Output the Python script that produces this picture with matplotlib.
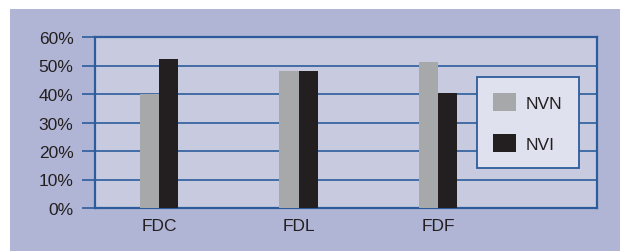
import matplotlib
matplotlib.use("Agg")
import matplotlib.pyplot as plt
from matplotlib.patches import Rectangle
import numpy as np

categories = ["FDC", "FDL", "FDF"]
nvn = [40, 48, 51.3]
nvi = [52.3, 48, 40.4]
series_names = ["NVN", "NVI"]
yticks = [0, 10, 20, 30, 40, 50, 60]
ytick_labels = [f"{v}%" for v in yticks]

plt.rcParams['font.family'] = ['Liberation Sans', 'DejaVu Sans']

W, H = 620, 253
fig = plt.figure(figsize=(W / 100, H / 100), dpi=100)
fig.patch.set_facecolor("white")
fig.patches.append(Rectangle((10 / W, 1 - 252 / H), 610 / W, 242 / H,
                             transform=fig.transFigure, facecolor="#b0b5d5",
                             edgecolor="none", zorder=-10))

ax = fig.add_axes([95 / W, 1 - 209 / H, 502 / W, 171 / H])
ax.set_zorder(1)
ax.set_facecolor("#c8cbe0")

blue = "#2c5c9c"
text_c = "#231f20"
fs = 12.5
x = np.arange(len(categories))
bw = 0.137
b1 = ax.bar(x - bw / 2, nvn, bw, color="#a7a8aa", label=series_names[0], zorder=3)
b2 = ax.bar(x + bw / 2, nvi, bw, color="#231f20", label=series_names[1], zorder=3)

ax.set_xlim(-0.46, 3.14)
ax.set_ylim(0, 60)
ax.set_yticks(yticks)
ax.set_yticklabels(ytick_labels)
ax.set_xticks(x)
ax.set_xticklabels(categories)
ax.yaxis.grid(True, color=blue, linewidth=1.2, zorder=1)
ax.set_axisbelow(True)
for s in ax.spines.values():
    s.set_color(blue)
    s.set_linewidth(1.6)
ax.tick_params(axis="y", length=9.5, width=1.2, color=blue, direction="out",
               pad=6, labelsize=fs, labelcolor=text_c)
ax.tick_params(axis="x", length=0, pad=7, labelsize=fs, labelcolor=text_c)

leg = ax.legend(loc="upper left", bbox_to_anchor=(477 / W, 1 - 78 / H),
                bbox_transform=fig.transFigure, borderaxespad=0,
                fontsize=fs, frameon=True, fancybox=False,
                handlelength=1.27, handleheight=1.2, labelspacing=1.3,
                handletextpad=0.57, borderpad=0.95)
frame = leg.get_frame()
frame.set_facecolor("#dfe1ee")
frame.set_edgecolor(blue)
frame.set_linewidth(1.3)
frame.set_alpha(1)
for t in leg.get_texts():
    t.set_color(text_c)

fig.savefig("out.png", dpi=100, facecolor="white")
